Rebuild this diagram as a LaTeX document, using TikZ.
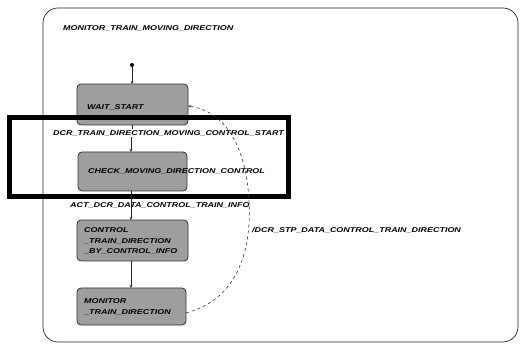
\documentclass[tikz,border=0pt]{standalone}
\usepackage{fontspec}
\usepackage{graphicx}
\setmainfont{Liberation Sans}
\usetikzlibrary{arrows.meta}
\newcommand{\widetxt}[1]{\scalebox{1.28}[1]{#1}}
\newcommand{\widelines}[1]{\scalebox{1.28}[1]{\begin{tabular}{@{}l@{}}#1\end{tabular}}}
\begin{document}
\begin{tikzpicture}[x=1pt,y=-1pt,
  lbl/.style={font=\fontsize{7}{8}\selectfont\bfseries\itshape, inner sep=0pt},
  statebox/.style={draw=black!80, line width=0.8pt, fill=black!38, rounded corners=4pt},
  boxtext/.style={font=\fontsize{7}{10.5}\selectfont\bfseries\itshape, inner sep=0pt, align=left, anchor=west},
  flow/.style={-{Stealth[length=3pt,width=2.5pt]}, line width=0.6pt, draw=black!85},
  dflow/.style={-{Stealth[length=3pt,width=2.5pt]}, dashed, line width=0.6pt, draw=black!80}]
\useasboundingbox (0,0) rectangle (522,347);
% outer frame
\draw[line width=0.7pt, rounded corners=15pt, draw=black!85] (43,8) rectangle (518,342);
\node[lbl, anchor=west] (title) at (63,28) {\widetxt{MONITOR\_TRAIN\_MOVING\_DIRECTION}};
% initial
\fill (132,65) circle (2pt);
\coordinate (init) at (132,65);
% states
\path[statebox] (77,84) rectangle (188,125);
\coordinate (s1top) at (132,84);
\coordinate (s1bot) at (132,125);
\coordinate (s1right) at (188,106);
\node[boxtext] (t1) at (87,107) {\widetxt{WAIT\_START}};
\path[statebox] (78,152) rectangle (187,191);
\coordinate (s2top) at (131,152);
\coordinate (s2bot) at (131,191);
\node[boxtext] (t2) at (88,171) {\widetxt{CHECK\_MOVING\_DIRECTION\_CONTROL}};
\path[statebox] (77,220) rectangle (188,261);
\coordinate (s3top) at (131,220);
\coordinate (s3bot) at (131,261);
\node[boxtext] (t3) at (84,241) {\widelines{CONTROL\\ \_TRAIN\_DIRECTION\\ \_BY\_CONTROL\_INFO}};
\path[statebox] (77,288) rectangle (186,325);
\coordinate (s4top) at (131,288);
\coordinate (s4right) at (186,313);
\node[boxtext] (t4) at (84,307) {\widelines{MONITOR\\ \_TRAIN\_DIRECTION}};
% highlight frame
\draw[line width=5pt, draw=black] (9,118) rectangle (288,197);
% labels
\node[lbl, anchor=west, fill=white, inner sep=1pt] (l1) at (52,133) {\widetxt{DCR\_TRAIN\_DIRECTION\_MOVING\_CONTROL\_START}};
\node[lbl, anchor=west] (l2) at (70,205) {\widetxt{ACT\_DCR\_DATA\_CONTROL\_TRAIN\_INFO}};
\node[lbl, anchor=west] (l3) at (252,230) {\widetxt{/DCR\_STP\_DATA\_CONTROL\_TRAIN\_DIRECTION}};
% transitions
\draw[flow] (init) -- (s1top);
\draw[flow] (s1bot) -- (l1.north -| s1bot) (l1.south -| s2top) -- (s2top);
\draw[flow] (s2bot) -- (s3top);
\draw[flow] (s3bot) -- (s4top);
\draw[dflow] (s4right) .. controls (235,300) and (252,255) .. (249,200)
  .. controls (246,150) and (228,112) .. (s1right);
\end{tikzpicture}
\end{document}
